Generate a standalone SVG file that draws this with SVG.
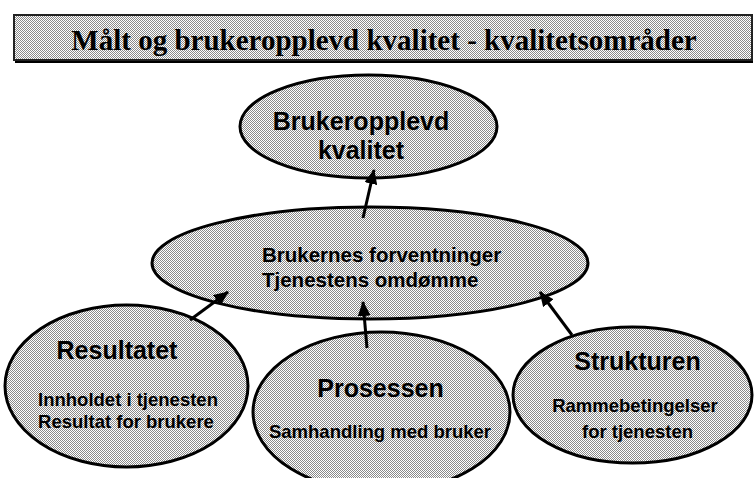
<svg xmlns="http://www.w3.org/2000/svg" width="754" height="478" viewBox="0 0 754 478">
  <defs>
    <pattern id="dots" patternUnits="userSpaceOnUse" width="2" height="2">
      <rect width="2" height="2" fill="#ffffff"/>
      <rect x="0" y="0" width="1" height="1" fill="#8a8a8a"/>
      <rect x="1" y="1" width="1" height="1" fill="#8a8a8a"/>
    </pattern>
    <marker id="arrow" markerUnits="userSpaceOnUse" markerWidth="15" markerHeight="13" refX="14" refY="6.5" orient="auto">
      <path d="M0,0 L15,6.5 L0,13 z" fill="#000"/>
    </marker>
  </defs>
  <style>
    .node { fill: url(#dots); stroke: #000; stroke-width: 3; }
    .head { font-family: "Liberation Sans", Arial, sans-serif; font-weight: bold; font-size: 25px; fill: #000; text-anchor: middle; }
    .sub { font-family: "Liberation Sans", Arial, sans-serif; font-weight: bold; font-size: 18.5px; fill: #000; text-anchor: middle; }
    .mid { font-family: "Liberation Sans", Arial, sans-serif; font-weight: bold; font-size: 20.5px; fill: #000; }
    .title { font-family: "Liberation Serif", "Times New Roman", serif; font-weight: bold; font-size: 29px; fill: #000; text-anchor: middle; }
    .conn { stroke: #000; stroke-width: 3; fill: none; marker-end: url(#arrow); }
  </style>

  <g id="title">
    <line x1="15" y1="62" x2="753" y2="62" stroke="#000" stroke-width="2"/>
    <rect x="14" y="15" width="738" height="45" fill="url(#dots)" stroke="#222" stroke-width="2"/>
    <text class="title" x="384" y="50">Målt og brukeropplevd kvalitet - kvalitetsområder</text>
  </g>

  <g id="brukeropplevd">
    <ellipse class="node" cx="368.5" cy="126.5" rx="128.5" ry="51.5"/>
    <text class="head" x="361" y="130">Brukeropplevd</text>
    <text class="head" x="361" y="159">kvalitet</text>
  </g>

  <g id="forventninger">
    <ellipse class="node" cx="370" cy="263" rx="218" ry="56"/>
    <text class="mid" x="262" y="262">Brukernes forventninger</text>
    <text class="mid" x="262" y="287">Tjenestens omdømme</text>
  </g>

  <g id="resultatet">
    <ellipse class="node" cx="126.5" cy="386" rx="121.5" ry="81"/>
    <text class="head" x="117" y="359">Resultatet</text>
    <text class="sub" x="128" y="406">Innholdet i tjenesten</text>
    <text class="sub" x="126" y="428">Resultat for brukere</text>
  </g>

  <g id="prosessen">
    <ellipse class="node" cx="381.5" cy="412" rx="128.5" ry="80"/>
    <text class="head" x="380.5" y="397">Prosessen</text>
    <text class="sub" x="380" y="438">Samhandling med bruker</text>
  </g>

  <g id="strukturen">
    <ellipse class="node" cx="632.5" cy="395" rx="119.5" ry="68"/>
    <text class="head" x="637.5" y="370">Strukturen</text>
    <text class="sub" x="635" y="412">Rammebetingelser</text>
    <text class="sub" x="637.5" y="438">for tjenesten</text>
  </g>

  <g id="connectors">
    <line class="conn" x1="363" y1="218" x2="374" y2="170"/>
    <line class="conn" x1="190" y1="320" x2="228" y2="292"/>
    <line class="conn" x1="367" y1="348" x2="363" y2="302"/>
    <line class="conn" x1="572" y1="335" x2="540" y2="292"/>
  </g>
</svg>
